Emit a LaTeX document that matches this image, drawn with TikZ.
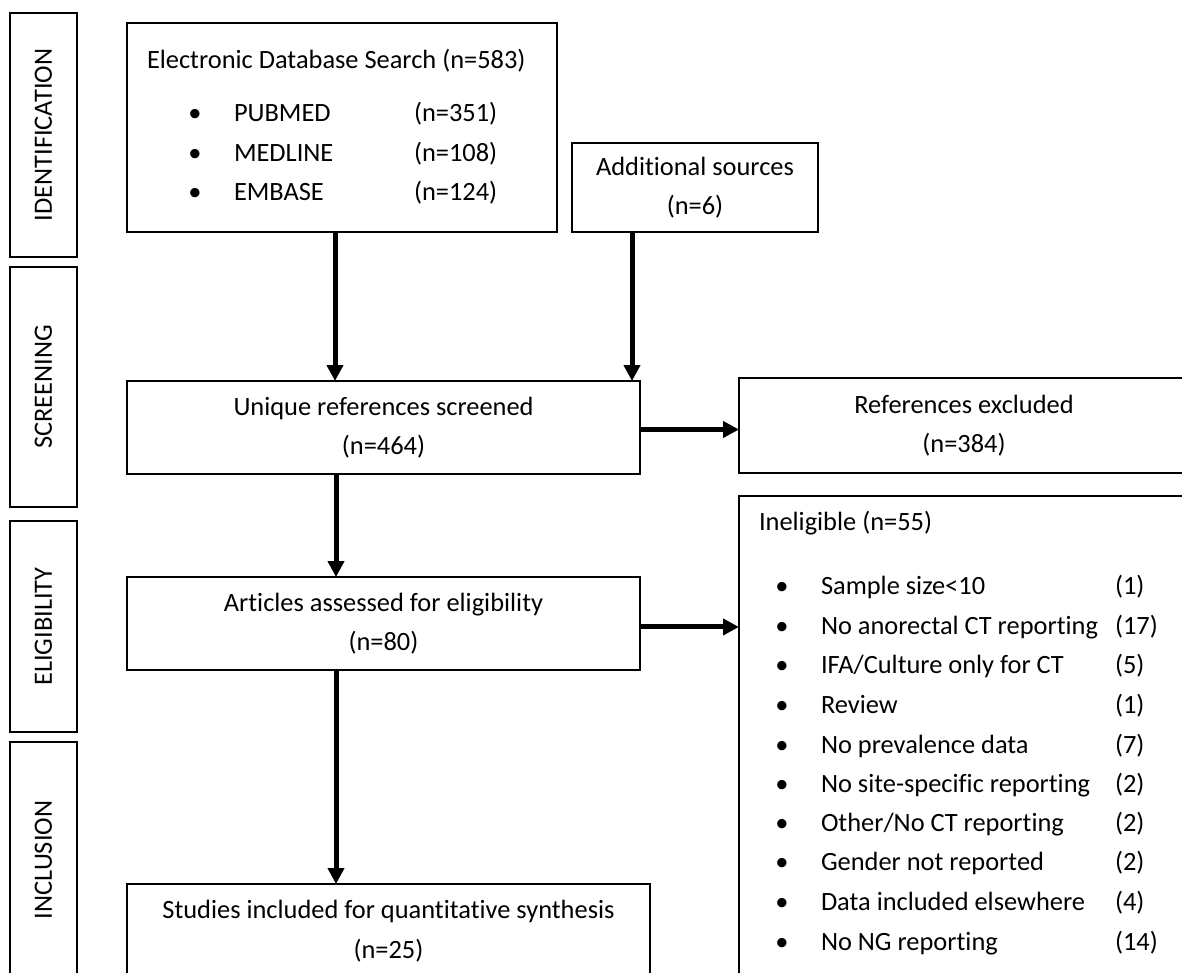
\documentclass[tikz,border=0pt]{standalone}
\usepackage{fontspec}
\setmainfont{Carlito}[Ligatures=NoCommon]
\usetikzlibrary{arrows.meta,calc}
\newcommand{\fsz}{\fontsize{19.8}{29.6}\selectfont}
\begin{document}
\begin{tikzpicture}[x=0.75pt,y=-0.75pt,
  box/.style={draw, line width=1pt, inner sep=0pt, outer sep=0pt, align=center, font=\fsz},
  vbox/.style={box, rotate=90},
  txt/.style={inner sep=0pt, outer sep=0pt, font=\fsz, text height=14.8pt, text depth=4.9pt},
  arr/.style={line width=3.75pt, -{Triangle[length=12pt,width=12pt]}}]
\useasboundingbox (0,0) rectangle (1182,972);
% stage labels
\node[vbox, minimum width=183pt, minimum height=50.25pt] (id) at (43.5,135) {IDENTIFICATION};
\node[vbox, minimum width=180pt, minimum height=50.25pt] (sc) at (43.5,387) {SCREENING};
\node[vbox, minimum width=158.25pt, minimum height=50.25pt] (el) at (43.5,626.5) {ELIGIBILITY};
\node[vbox, minimum width=177pt, minimum height=50.25pt] (in) at (43.5,860) {INCLUSION};
% main boxes
\node[box, minimum width=322.5pt, minimum height=156.75pt] (E) at (342,127.5) {};
\node[txt, anchor=west] (Et) at (147,62) {Electronic Database Search (n=583)};
\foreach \n/\c/\y [count=\i] in {PUBMED/351/115, MEDLINE/108/155, EMBASE/124/194}{
  \node[txt] (Eb\i) at (195,\y) {•};
  \node[txt, anchor=west] (En\i) at (234,\y) {\n};
  \node[txt, anchor=west] (Ec\i) at (414,\y) {(n=\c)};
}
\node[box, minimum width=184.5pt, minimum height=66.75pt] (A) at (695,187.5) {Additional sources\\(n=6)};
\node[box, minimum width=384.75pt, minimum height=69.75pt] (U) at (383.5,427.5) {Unique references screened\\(n=464)};
\node[box, minimum width=337.5pt, minimum height=71.25pt] (R) at (964,425.5) {References excluded\\(n=384)};
\node[box, minimum width=384.75pt, minimum height=69.75pt] (Ar) at (383.5,623.5) {Articles assessed for eligibility\\(n=80)};
\node[box, minimum width=392.25pt, minimum height=70.5pt] (S) at (388.5,931) {Studies included for quantitative synthesis\\(n=25)};
\node[box, minimum width=337.5pt, minimum height=378pt] (I) at (964,748) {};
\node[txt, anchor=west] (It) at (759,524) {Ineligible (n=55)};
\foreach \t/\c/\y [count=\i] in {Sample size<10/1/588, No anorectal CT reporting/17/628, IFA\slash Culture only for CT/5/667, Review/1/707, No prevalence data/7/747, No site-specific reporting/2/786, Other\slash No CT reporting/2/825, Gender not reported/2/864, Data included elsewhere/4/904, No NG reporting/14/944}{
  \node[txt] (Ib\i) at (782,\y) {•};
  \node[txt, anchor=west] (It\i) at (821,\y) {\t};
  \node[txt, anchor=west] (Ic\i) at (1115,\y) {(\c)};
}
% columns for arrows
\coordinate (c1) at (335,0);
\coordinate (c2) at (632,0);
\coordinate (c3) at (336,0);
\draw[arr] (E.south -| c1) -- (U.north -| c1);
\draw[arr] (A.south -| c2) -- (U.north -| c2);
\draw[arr] (U.south -| c3) -- (Ar.north -| c3);
\draw[arr] (Ar.south -| c3) -- (S.north -| c3);
\draw[arr] ([yshift=-1.5pt]U.east) -- ([yshift=-1.5pt]U.east -| R.west);
\draw[arr] ([yshift=-2.6pt]Ar.east) -- ([yshift=-2.6pt]Ar.east -| I.west);
\end{tikzpicture}
\end{document}
